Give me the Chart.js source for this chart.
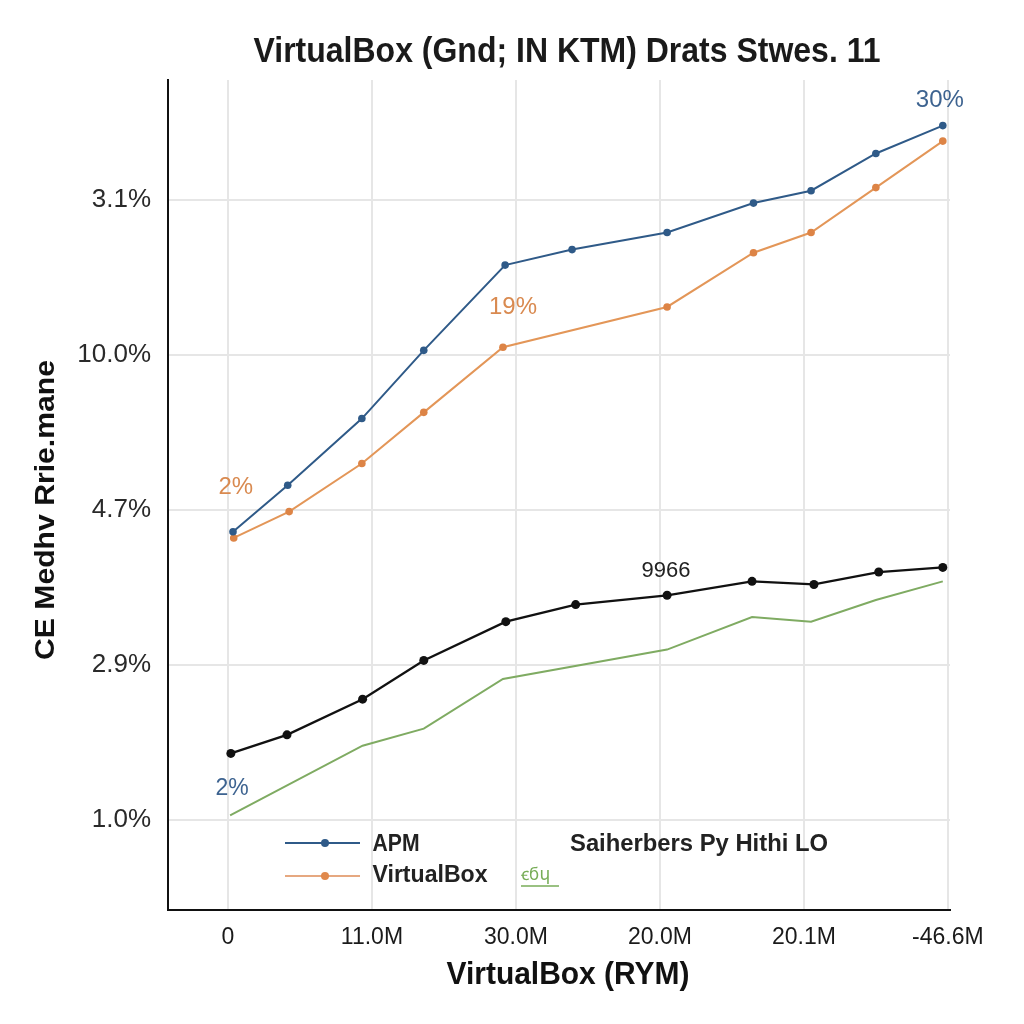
<!DOCTYPE html>
<html>
<head>
<meta charset="utf-8">
<script src="https://cdn.jsdelivr.net/npm/chart.js@4.4.1/dist/chart.umd.min.js"></script>
<style>
  html, body { margin: 0; padding: 0; background: #ffffff; }
  #wrap { width: 1024px; height: 1024px; }
</style>
</head>
<body>
<div id="wrap"><canvas id="c" width="1024" height="1024"></canvas></div>
<script>
// ---- Data ----
const titleText = 'VirtualBox (Gnd; IN KTM) Drats Stwes. 11';
const xTitleText = 'VirtualBox (RYM)';
const yTitleText = 'CE Medhv Rrie.mane';

const xTickValues = [0, 2, 4, 6, 8, 10];
const xTickLabels = ['0', '11.0M', '30.0M', '20.0M', '20.1M', '-46.6M'];
const yTickValues = [0, 1, 2, 3, 4];
const yTickLabels = ['1.0%', '2.9%', '4.7%', '10.0%', '3.1%'];

const apmX = [0.07, 0.83, 1.86, 2.72, 3.85, 4.78, 6.1, 7.3, 8.1, 9.0, 9.93];
const apmY = [1.86, 2.16, 2.59, 3.03, 3.58, 3.68, 3.79, 3.98, 4.06, 4.30, 4.48];

const vboxX = [0.08, 0.85, 1.86, 2.72, 3.82, 6.1, 7.3, 8.1, 9.0, 9.93];
const vboxY = [1.82, 1.99, 2.30, 2.63, 3.05, 3.31, 3.66, 3.79, 4.08, 4.38];

const blackX = [0.04, 0.82, 1.87, 2.72, 3.86, 4.83, 6.1, 7.28, 8.14, 9.04, 9.93];
const blackY = [0.43, 0.55, 0.78, 1.03, 1.28, 1.39, 1.45, 1.54, 1.52, 1.60, 1.63];

const greenX = [0.03, 1.87, 2.72, 3.82, 6.1, 7.28, 8.1, 9.0, 9.93];
const greenY = [0.03, 0.48, 0.59, 0.91, 1.10, 1.31, 1.28, 1.42, 1.54];

const seriesNames = ['APM', 'VirtualBox', 'Saiherbers Py Hithi LO', 'ꞓϭɥ'];

// point annotations: [dataset index, point index, text]
const annotations = [
  [0, 10, '30%'],
  [1, 4, '19%'],
  [1, 0, '2%'],
  [3, 0, '2%'],
  [2, 6, '9966']
];

// ---- Styling ----
const COLORS = ['#2f5a88', '#e08a4c', '#111111', '#7fab62'];
const toPts = (xs, ys) => xs.map((x, i) => ({ x: x, y: ys[i] }));

function drawFitted(ctx, text, cx, cy, font, color, targetW, rot) {
  ctx.save();
  ctx.font = font;
  const w = ctx.measureText(text).width;
  const sx = targetW ? targetW / w : 1;
  ctx.translate(cx, cy);
  if (rot) ctx.rotate(rot);
  ctx.scale(sx, 1);
  ctx.fillStyle = color;
  ctx.textAlign = 'center';
  ctx.textBaseline = 'middle';
  ctx.fillText(text, 0, 0);
  ctx.restore();
}

const decorPlugin = {
  id: 'decor',
  afterDraw(chart) {
    const ctx = chart.ctx;
    // titles
    drawFitted(ctx, titleText, 567, 52, '600 35px "Liberation Sans", Arial, sans-serif', '#1a1a1a', 627, 0);
    drawFitted(ctx, xTitleText, 568, 975, 'bold 31px "Liberation Sans", Arial, sans-serif', '#111', 243, 0);
    drawFitted(ctx, yTitleText, 47, 510, 'bold 27px "Liberation Sans", Arial, sans-serif', '#111', 300, -Math.PI / 2);

    // annotations relative to data points
    const offs = [[-3, -25], [10, -40], [2, -51], [2, -27], [-1, -24]];
    const annColors = ['#3d6390', '#d98a50', '#d98a50', '#3d6390', '#222'];
    const annFonts = ['24px', '24px', '24px', '23px', '22px'];
    annotations.forEach((a, k) => {
      const el = chart.getDatasetMeta(a[0]).data[a[1]];
      ctx.save();
      ctx.font = annFonts[k] + ' "Liberation Sans", Arial, sans-serif';
      ctx.fillStyle = annColors[k];
      ctx.textAlign = 'center';
      ctx.textBaseline = 'middle';
      ctx.fillText(a[2], el.x + offs[k][0], el.y + offs[k][1]);
      ctx.restore();
    });

    // legend inside the plot
    ctx.save();
    ctx.textBaseline = 'middle';
    ctx.textAlign = 'left';
    const legendRows = [[0, 843, '#2f5a88', '#2f5a88'], [1, 876, '#e6a880', '#e0894c']];
    legendRows.forEach(r => {
      ctx.strokeStyle = r[2];
      ctx.lineWidth = 2;
      ctx.beginPath(); ctx.moveTo(285, r[1]); ctx.lineTo(360, r[1]); ctx.stroke();
      ctx.fillStyle = r[3];
      ctx.beginPath(); ctx.arc(325, r[1], 4, 0, Math.PI * 2); ctx.fill();
    });
    drawFitted(ctx, seriesNames[0], 396, 845, '600 23px "Liberation Sans", Arial, sans-serif', '#222', 47, 0);
    drawFitted(ctx, seriesNames[1], 430, 876, '600 23px "Liberation Sans", Arial, sans-serif', '#222', 115, 0);
    drawFitted(ctx, seriesNames[2], 699, 845, '600 23px "Liberation Sans", Arial, sans-serif', '#222', 258, 0);
    ctx.font = '17px "DejaVu Sans", sans-serif';
    ctx.fillStyle = '#78ad58';
    ctx.textAlign = 'left';
    ctx.fillText(seriesNames[3], 521, 876);
    ctx.strokeStyle = '#78ad58';
    ctx.lineWidth = 1.5;
    ctx.beginPath(); ctx.moveTo(521, 886); ctx.lineTo(559, 886); ctx.stroke();
    ctx.restore();
  }
};

const cfg = {
  type: 'line',
  data: {
    datasets: [
      { label: seriesNames[0], data: toPts(apmX, apmY), borderColor: COLORS[0], backgroundColor: COLORS[0],
        borderWidth: 2, pointRadius: 3.8, pointBackgroundColor: COLORS[0], pointBorderWidth: 0, tension: 0 },
      { label: seriesNames[1], data: toPts(vboxX, vboxY), borderColor: '#e39658', backgroundColor: '#dd8446',
        borderWidth: 2, pointRadius: 3.8, pointBackgroundColor: '#dd8446', pointBorderWidth: 0, tension: 0 },
      { label: seriesNames[2], data: toPts(blackX, blackY), borderColor: COLORS[2], backgroundColor: COLORS[2],
        borderWidth: 2.3, pointRadius: 4.5, pointBackgroundColor: COLORS[2], pointBorderWidth: 0, tension: 0 },
      { label: seriesNames[3], data: toPts(greenX, greenY), borderColor: COLORS[3], backgroundColor: COLORS[3],
        borderWidth: 2, pointRadius: 0, tension: 0 }
    ]
  },
  options: {
    responsive: false,
    animation: false,
    devicePixelRatio: 1,
    layout: { padding: { left: 0, top: 80, right: 74, bottom: 0 } },
    plugins: { legend: { display: false }, title: { display: false }, tooltip: { enabled: false } },
    scales: {
      x: {
        type: 'linear', min: -0.833, max: 10.03,
        afterFit(s) { s.height = 114; },
        afterBuildTicks(s) { s.ticks = xTickValues.map(v => ({ value: v })); },
        grid: { color: '#e6e6e6', lineWidth: 2, drawTicks: false },
        border: { color: '#111', width: 2 },
        ticks: {
          padding: 14, color: '#1a1a1a', maxRotation: 0, autoSkip: false,
          font: { family: '"Liberation Sans", Arial, sans-serif', size: 23 },
          callback: (v) => { const i = xTickValues.indexOf(v); return i >= 0 ? xTickLabels[i] : ''; }
        }
      },
      y: {
        type: 'linear', min: -0.58, max: 4.774,
        afterFit(s) { s.width = 168; },
        afterBuildTicks(s) { s.ticks = yTickValues.map(v => ({ value: v })); },
        grid: { color: '#e6e6e6', lineWidth: 2, drawTicks: false },
        border: { color: '#111', width: 2 },
        ticks: {
          padding: 17, color: '#2a2a2a',
          font: { family: '"Liberation Sans", Arial, sans-serif', size: 26 },
          callback: (v) => { const i = yTickValues.indexOf(v); return i >= 0 ? yTickLabels[i] : ''; }
        }
      }
    }
  },
  plugins: [decorPlugin]
};

new Chart(document.getElementById('c'), cfg);
</script>
</body>
</html>
